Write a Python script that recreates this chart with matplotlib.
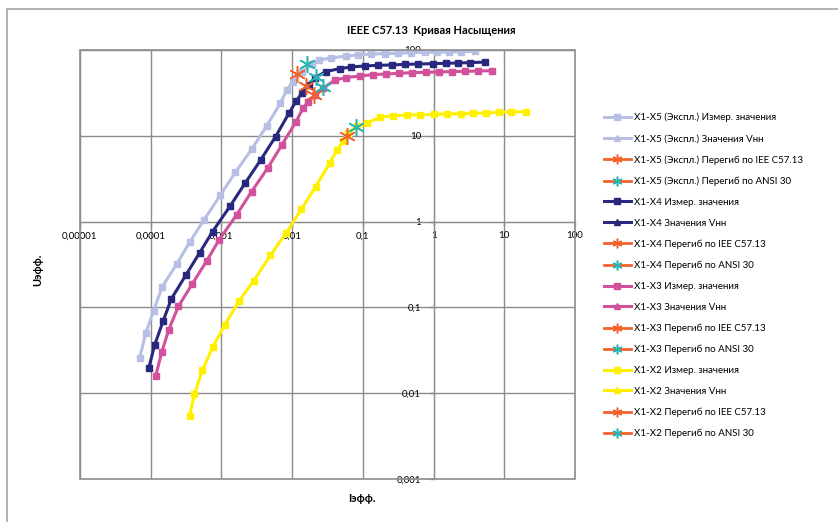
import numpy as np
import matplotlib.pyplot as plt
from matplotlib.ticker import FixedLocator, FuncFormatter, NullLocator
from matplotlib.patches import Rectangle

plt.rcParams['font.family'] = ['Lato', 'DejaVu Sans']

# X1-X5 (Экспл.) measured values
i_x5 = [7.0e-5, 8.5e-5, 1.10e-4, 1.46e-4, 2.33e-4, 3.6e-4, 5.6e-4, 9.7e-4, 1.58e-3, 2.72e-3,
        4.35e-3, 6.8e-3, 8.4e-3, 0.0102, 0.0137, 0.0188, 0.0243, 0.0357, 0.058, 0.085,
        0.13, 0.203, 0.314, 0.485, 0.75, 1.12, 1.64, 2.41, 3.9]
u_x5 = [0.026, 0.050, 0.092, 0.175, 0.32, 0.586, 1.03, 2.05, 3.76, 7.1,
        13.0, 23.9, 34.0, 42.8, 56.0, 68.7, 76.6, 80.7, 85.0, 87.5,
        89.8, 90.6, 91.5, 93.0, 94.0, 94.3, 94.8, 95.6, 96.5]

# X1-X4
i_x4 = [9.4e-5, 1.14e-4, 1.49e-4, 1.96e-4, 3.14e-4, 4.94e-4, 7.5e-4, 1.33e-3, 2.17e-3, 3.59e-3,
        5.84e-3, 9.0e-3, 0.0115, 0.0139, 0.0172, 0.0212, 0.030, 0.047, 0.069, 0.107,
        0.165, 0.255, 0.394, 0.61, 0.975, 1.5, 2.21, 3.3, 5.36]
u_x4 = [0.0198, 0.0367, 0.0685, 0.126, 0.238, 0.436, 0.766, 1.52, 2.82, 5.23,
        9.8, 18.3, 25.7, 31.9, 39.0, 47.6, 56.0, 60.7, 63.4, 65.2,
        66.3, 66.9, 68.0, 68.7, 69.3, 70.0, 70.6, 71.2, 72.4]

# X1-X3
i_x3 = [1.18e-4, 1.43e-4, 1.80e-4, 2.46e-4, 3.87e-4, 6.2e-4, 9.2e-4, 1.64e-3, 2.67e-3, 4.5e-3,
        7.1e-3, 0.0113, 0.0142, 0.0169, 0.0212, 0.027, 0.041, 0.058, 0.090, 0.139,
        0.21, 0.325, 0.50, 0.776, 1.2, 1.85, 2.77, 4.28, 6.7]
u_x3 = [0.016, 0.030, 0.055, 0.1025, 0.188, 0.349, 0.607, 1.20, 2.24, 4.19,
        7.76, 14.5, 20.9, 25.0, 29.9, 35.8, 44.8, 47.6, 49.8, 51.6,
        52.5, 53.5, 54.5, 55.0, 55.5, 56.0, 56.5, 56.9, 57.4]

# X1-X2
i_x2 = [3.54e-4, 4.15e-4, 5.38e-4, 7.5e-4, 1.12e-3, 1.76e-3, 2.86e-3, 4.91e-3, 8.3e-3, 0.0135,
        0.0215, 0.0339, 0.0432, 0.0523, 0.0623, 0.082, 0.1135, 0.175, 0.267, 0.42,
        0.65, 1.01, 1.53, 2.41, 3.66, 5.55, 8.3, 12.6, 20.1]
u_x2 = [0.00537, 0.00977, 0.01845, 0.0342, 0.0627, 0.118, 0.204, 0.403, 0.746, 1.39,
        2.56, 4.79, 6.84, 8.63, 10.7, 13.0, 14.0, 16.5, 17.1, 17.5,
        17.5, 17.8, 18.0, 18.1, 18.3, 18.5, 18.8, 19.0, 19.1]

# knee points: (I, U) for IEEE C57.13 and ANSI 30
knee_ieee = {'x5': (0.0117, 52.5), 'x4': (0.0155, 38.0), 'x3': (0.0205, 30.0), 'x2': (0.060, 9.96)}
knee_ansi = {'x5': (0.0163, 68.7), 'x4': (0.0219, 48.0), 'x3': (0.0275, 37.4), 'x2': (0.079, 12.8)}

series = [
    ('x5', 'X1-X5 (Экспл.)', i_x5, u_x5, '#B7BFE4'),
    ('x4', 'X1-X4', i_x4, u_x4, '#29287E'),
    ('x3', 'X1-X3', i_x3, u_x3, '#D2519C'),
    ('x2', 'X1-X2', i_x2, u_x2, '#FFF000'),
]
c_ieee = '#F2622A'
c_ansi = '#26B5B0'
star = (6, 2, 0)

fig = plt.figure(figsize=(8.38, 5.22), dpi=100)
ax = fig.add_axes([80/838, 1-479/522, 495/838, 429/522])

for key, name, ii, uu, col in series:
    ax.plot(ii, uu, color=col, lw=2.2, marker='s', ms=5, mec=col, mfc=col,
            label=name + ' Измер. значения', zorder=3)
    ax.plot([], [], color=col, lw=2.2, marker='^', ms=5, label=name + ' Значения Vнн')
    xi, yi = knee_ieee[key]
    ax.plot([xi], [yi], color=c_ieee, lw=2, marker=star, ms=12, mew=1.1, mec=c_ieee,
            label=name + ' Перегиб по IEE C57.13', zorder=4)
    xa, ya = knee_ansi[key]
    ax.plot([xa], [ya], color=c_ieee, lw=2, marker=star, ms=12, mew=1.1, mec=c_ansi,
            label=name + ' Перегиб по ANSI 30', zorder=4)

ax.set_xscale('log')
ax.set_yscale('log')
ax.set_xlim(1e-5, 1e2)
ax.set_ylim(1e-3, 1e2)

xt = [1e-5, 1e-4, 1e-3, 1e-2, 1e-1, 1, 10, 100]
yt = [1e-3, 1e-2, 1e-1, 1, 10, 100]
ax.xaxis.set_major_locator(FixedLocator(xt))
ax.yaxis.set_major_locator(FixedLocator(yt))
ax.xaxis.set_minor_locator(NullLocator())
ax.yaxis.set_minor_locator(NullLocator())


def fmt(v, pos):
    s = ('%.5f' % v).rstrip('0').rstrip('.')
    return s.replace('.', ',')


ax.xaxis.set_major_formatter(FuncFormatter(fmt))
ax.yaxis.set_major_formatter(FuncFormatter(fmt))
ax.tick_params(labelsize=7, length=3, color='#888888', width=1, direction='out')
ax.tick_params(axis='x', pad=4)
ax.tick_params(axis='y', pad=6)

ax.grid(True, color='#8C8C8C', lw=1)
ax.set_axisbelow(True)
for s in ['top', 'right']:
    ax.spines[s].set_visible(False)
ax.spines['left'].set_position(('data', 1))
ax.spines['bottom'].set_position(('data', 1))
ax.spines['left'].set_color('#8C8C8C')
ax.spines['bottom'].set_color('#8C8C8C')
ax.add_patch(Rectangle((0, 0), 1, 1, transform=ax.transAxes, fill=False,
                       ec='#8C8C8C', lw=1.2, zorder=5, clip_on=False))

fig.text(431/838, 1-30/522, 'IEEE C57.13  Кривая Насыщения', ha='center', va='center',
         fontsize=8, fontweight='bold')
fig.text(38/838, 1-270/522, 'Uэфф.', rotation=90, ha='center', va='center',
         fontsize=8, fontweight='bold')
fig.text(362/838, 1-498/522, 'Iэфф.', ha='center', va='center', fontsize=8, fontweight='bold')

leg = fig.legend(loc='upper left', bbox_to_anchor=(595/838, 1-104/522), frameon=False,
                 fontsize=7, handlelength=2.8, labelspacing=1.22, handletextpad=0.3)
for h in leg.legend_handles:
    if h.get_marker() == star:
        h.set_markersize(7)

# chart area border
fig.add_artist(Rectangle((7/838, -0.1), 2, (1-9/522)+0.1, transform=fig.transFigure,
                         fill=False, ec='#A6A6A6', lw=1.2))

plt.savefig('out.png', dpi=100)
